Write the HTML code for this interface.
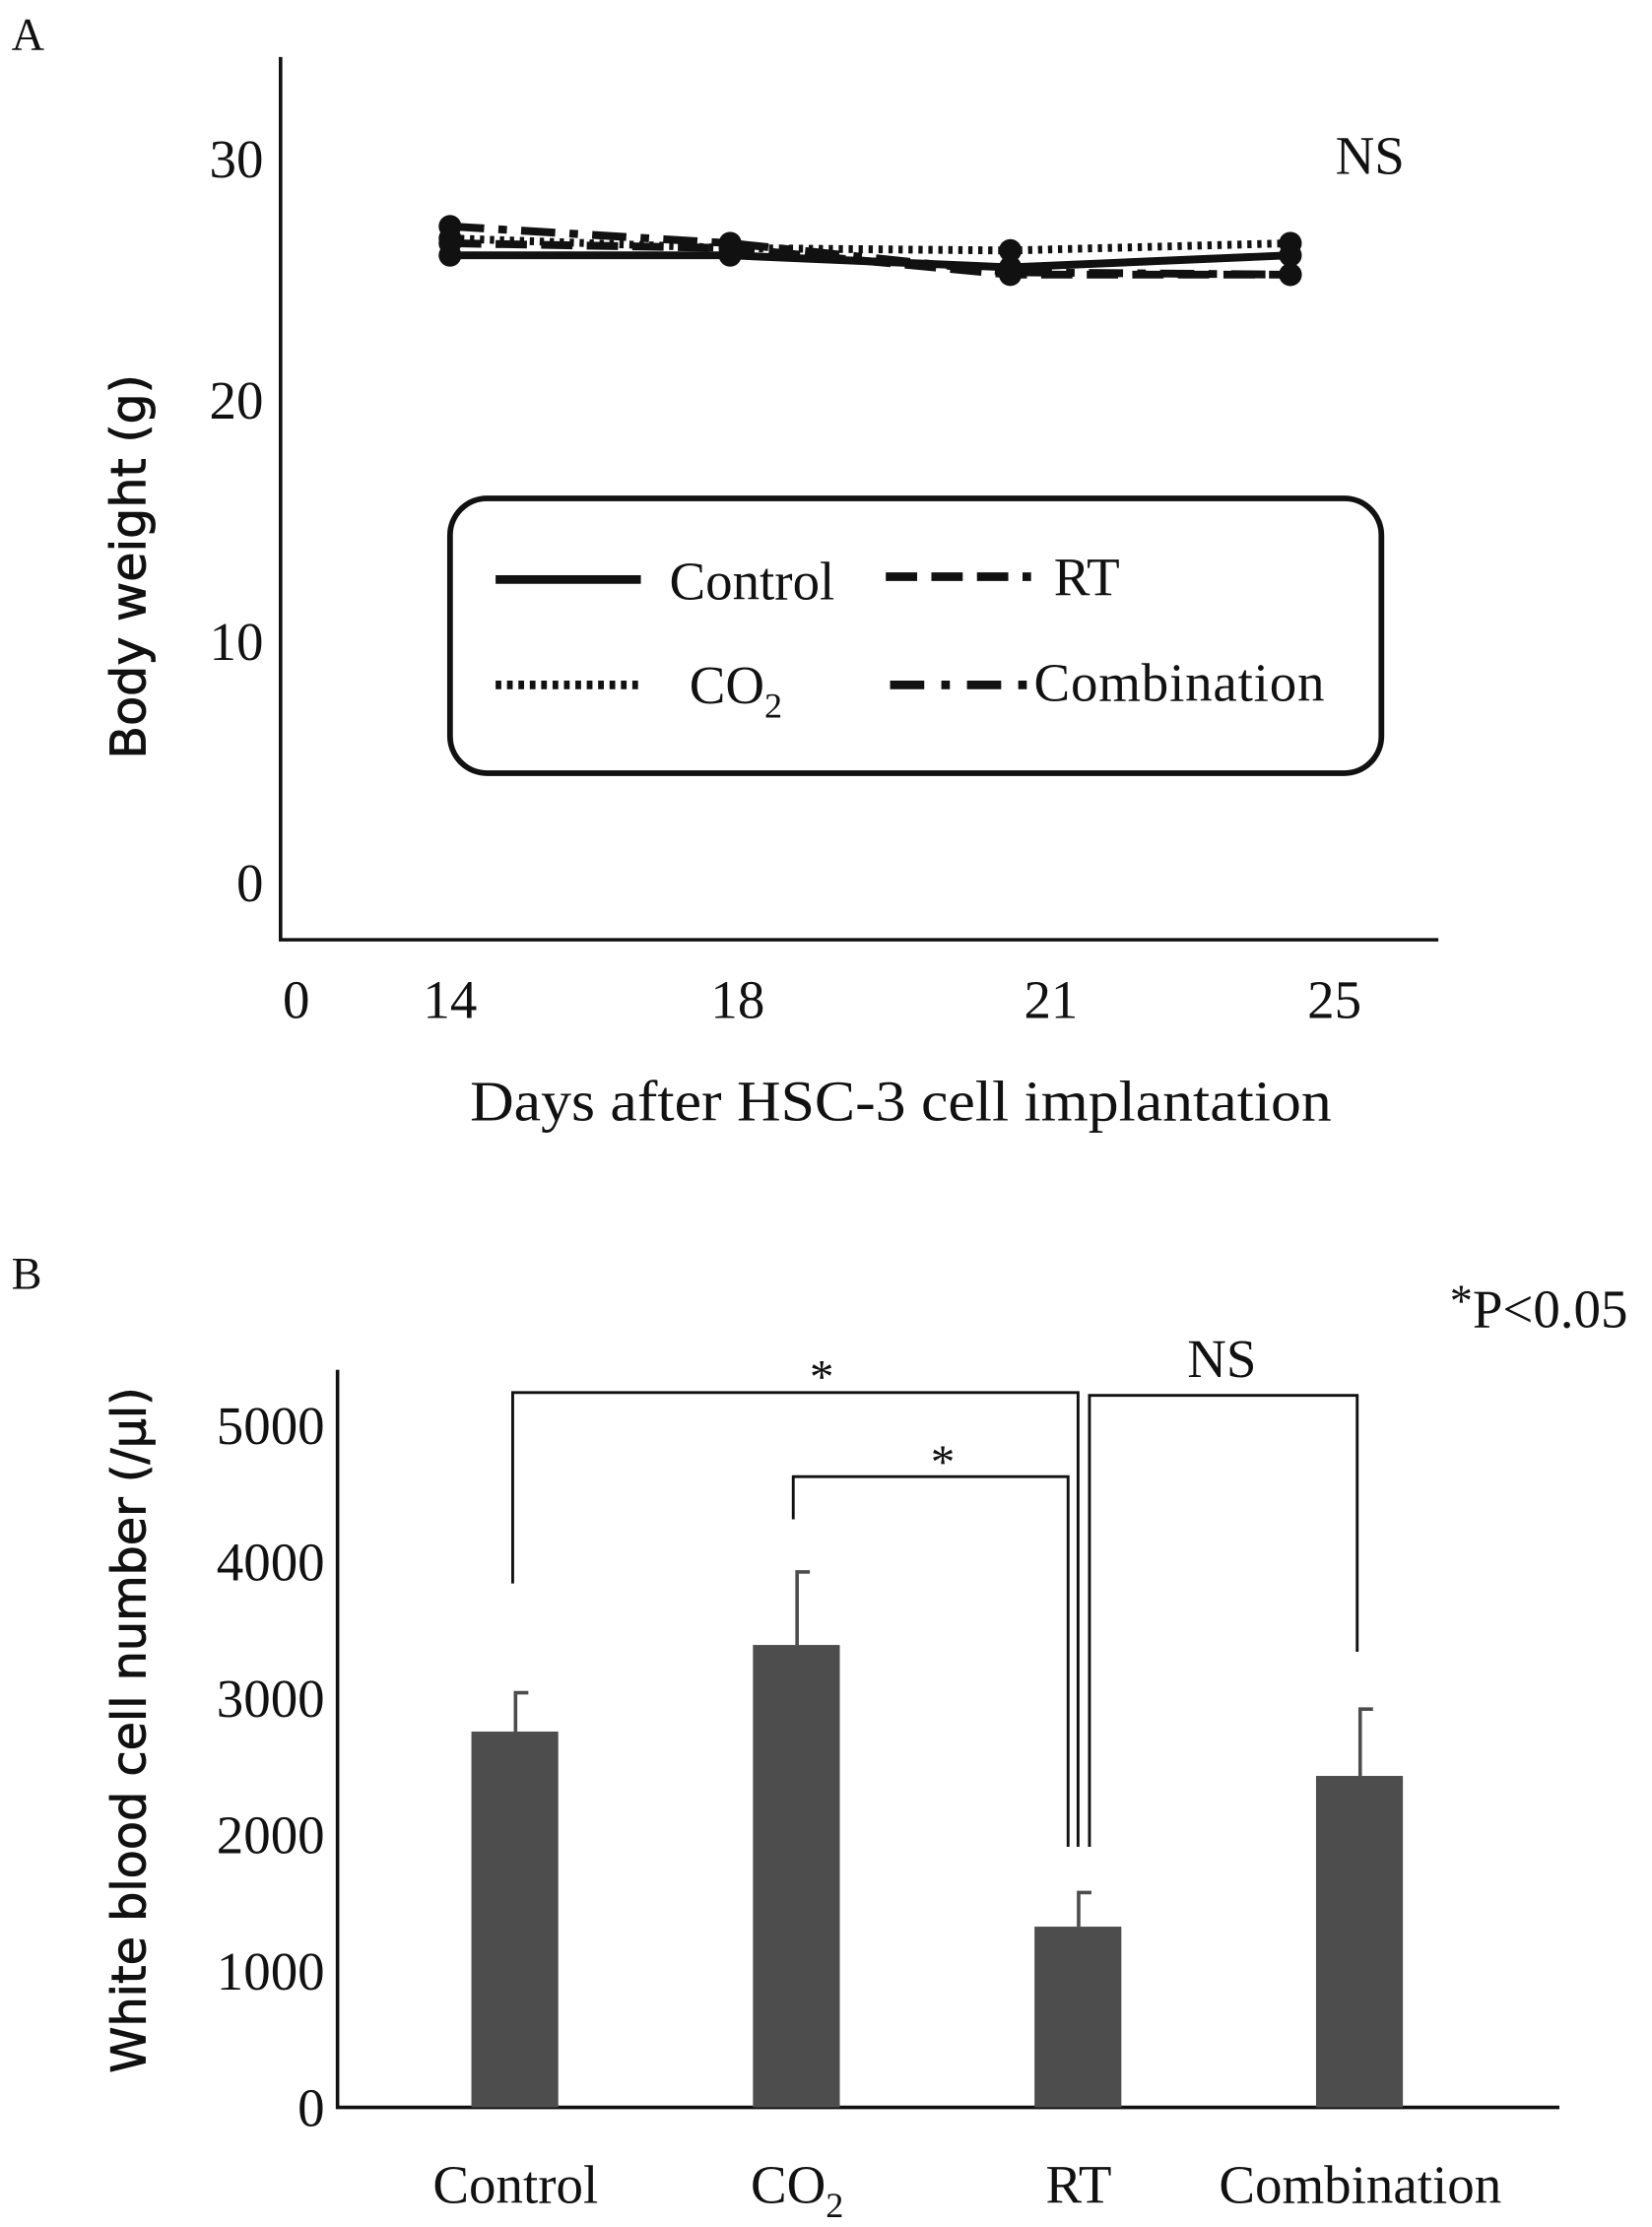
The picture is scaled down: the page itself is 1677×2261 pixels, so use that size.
<!DOCTYPE html>
<html><head><meta charset="utf-8"><style>
html,body{margin:0;padding:0;background:#fff;}
svg{display:block;}
text{font-family:"Liberation Serif",serif;fill:#111;}
</style></head><body>
<svg id="fig" width="1677" height="2261" viewBox="0 0 1160 1564" xmlns="http://www.w3.org/2000/svg">
<text x="8" y="35" font-size="32">A</text>
<text x="8" y="905" font-size="32">B</text>
<g id="chartA"></g>
<g id="chartB"></g>
</svg>
<script>
const NS="http://www.w3.org/2000/svg";
// ---- Panel A data ----
const daysA=[14,18,21,25];
const controlW=[26.0,26.0,25.5,26.0];
const co2W=[26.7,26.3,26.2,26.5];
const rtW=[26.5,26.3,25.2,25.2];
const comboW=[27.2,26.5,25.3,25.2];
const yTicksA=[0,10,20,30];
const xTickLabelsA=["0","14","18","21","25"];
// ---- Panel B data ----
const groupsB=["Control","CO2","RT","Combination"];
const wbcMean=[2755,3390,1325,2430];
const wbcErr=[285,535,250,490];
const yTicksB=[0,1000,2000,3000,4000,5000];

function mk(tag,attrs,parent){const e=document.createElementNS(NS,tag);for(const k in attrs)e.setAttribute(k,attrs[k]);parent.appendChild(e);return e;}
const A=document.getElementById('chartA');
const yA=v=>620-(v)*16.95;
const xA=i=>316+i*196.7;
let ax=mk('path',{d:'M197 40 V660 H1010',fill:'none',stroke:'#111','stroke-width':2.5},A);


yTicksA.forEach(v=>{const t=mk('text',{x:185,y:yA(v)+13,'font-size':38,'text-anchor':'end'},A);t.textContent=v;

});
const xLabelPos=[208,316,518,738,937];
xTickLabelsA.forEach((s,i)=>{const t=mk('text',{x:xLabelPos[i],y:715,'font-size':38,'text-anchor':'middle'},A);t.textContent=s;

});
let t=mk('text',{x:330,y:787,'font-size':40,textLength:605,lengthAdjust:'spacingAndGlyphs'},A);t.textContent='Days after HSC-3 cell implantation';


t=mk('text',{x:0,y:0,'font-size':34,'text-anchor':'middle',transform:'translate(102,398) rotate(-90)',style:'font-family:"DejaVu Sans",sans-serif;stroke:#111;stroke-width:0.6'},A);t.textContent='Body weight (g)';


t=mk('text',{x:962,y:122,'font-size':38,'text-anchor':'middle'},A);t.textContent='NS';


const series=[[controlW,'none','control'],[co2W,'3 4','co2'],[rtW,'22 10','rt'],[comboW,'24 10 6 10','combination']];
series.forEach(([vals,dash,name])=>{
  const pts=vals.map((v,i)=>xA(i)+','+yA(v)).join(' ');
  const l=mk('polyline',{points:pts,fill:'none',stroke:'#111','stroke-width':5.5,'stroke-dasharray':dash},A);
  
  
  vals.forEach((v,i)=>{const c=mk('circle',{cx:xA(i),cy:yA(v),r:8,fill:'#111'},A);
  
  });
});
const lg=mk('g',{},A);


mk('rect',{x:316,y:350,width:654,height:193,rx:26,fill:'#fff',stroke:'#111','stroke-width':4},lg);
const le=[[348,407,'none','Control',470,421],[622,405,'22 10','RT',740,418],[348,481,'4 4','CO2',484,494],[625,481,'24 12 6 12','Combination',726,492]];
le.forEach(([x,y,d,s,tx,ty])=>{
  const g=mk('g',{},lg);
  
  
  mk('line',{x1:x,y1:y,x2:x+102,y2:y,stroke:'#111','stroke-width':6,'stroke-dasharray':d},g);
  const tt=mk('text',{x:tx,y:ty,'font-size':38},g);
  if(s==='CO2'){tt.innerHTML='CO<tspan font-size="25" dy="10">2</tspan>';}else if(s==='Combination'){tt.setAttribute('textLength',204);tt.textContent=s;}else tt.textContent=s;
});
// ---- Panel B ----
const B=document.getElementById('chartB');
const yB=v=>1480-v*0.0958;
const xB=i=>362+i*197.7;
ax=mk('path',{d:'M237 962 V1480 H1095',fill:'none',stroke:'#111','stroke-width':2.5},B);


yTicksB.forEach(v=>{const tt=mk('text',{x:228,y:yB(v)+13,'font-size':38,'text-anchor':'end'},B);tt.textContent=v;

});
groupsB.forEach((g,i)=>{
  const x=xB(i);
  const r=mk('rect',{x:x-31,y:yB(wbcMean[i]),width:61,height:1480-yB(wbcMean[i]),fill:'#4d4d4d'},B);
  
  
  const e=mk('path',{d:`M${x} ${yB(wbcMean[i])} V${yB(wbcMean[i]+wbcErr[i])} h9`,fill:'none',stroke:'#4d4d4d','stroke-width':2.5},B);
  
  
  const tt=mk('text',{x:x,y:1547,'font-size':38,'text-anchor':'middle'},B);
  if(g==='CO2')tt.innerHTML='CO<tspan font-size="25" dy="10">2</tspan>';else tt.textContent=g;
  
  
});
const br=mk('g',{fill:'none',stroke:'#111','stroke-width':2},B);


mk('path',{d:'M360 1112 V978 H757 V1297'},br);
mk('path',{d:'M557 1067 V1037 H750 V1297'},br);
mk('path',{d:'M765 1297 V980 H953 V1160'},br);
[[577,978,'*',34],[662,1038,'*',34],[858,967,'NS',38]].forEach(([x,y,s,f])=>{const tt=mk('text',{x:x,y:y,'font-size':f,'text-anchor':'middle'},B);tt.textContent=s;

});
t=mk('text',{x:1018,y:932,'font-size':38},B);t.innerHTML='<tspan font-size="32" dy="-8">*</tspan><tspan dy="8">P&lt;0.05</tspan>';


t=mk('text',{x:0,y:0,'font-size':33,'text-anchor':'middle',transform:'translate(102,1215) rotate(-90)',style:'font-family:"DejaVu Sans",sans-serif;stroke:#111;stroke-width:0.6'},B);t.textContent='White blood cell number (/μl)';


</script>
</body></html>
